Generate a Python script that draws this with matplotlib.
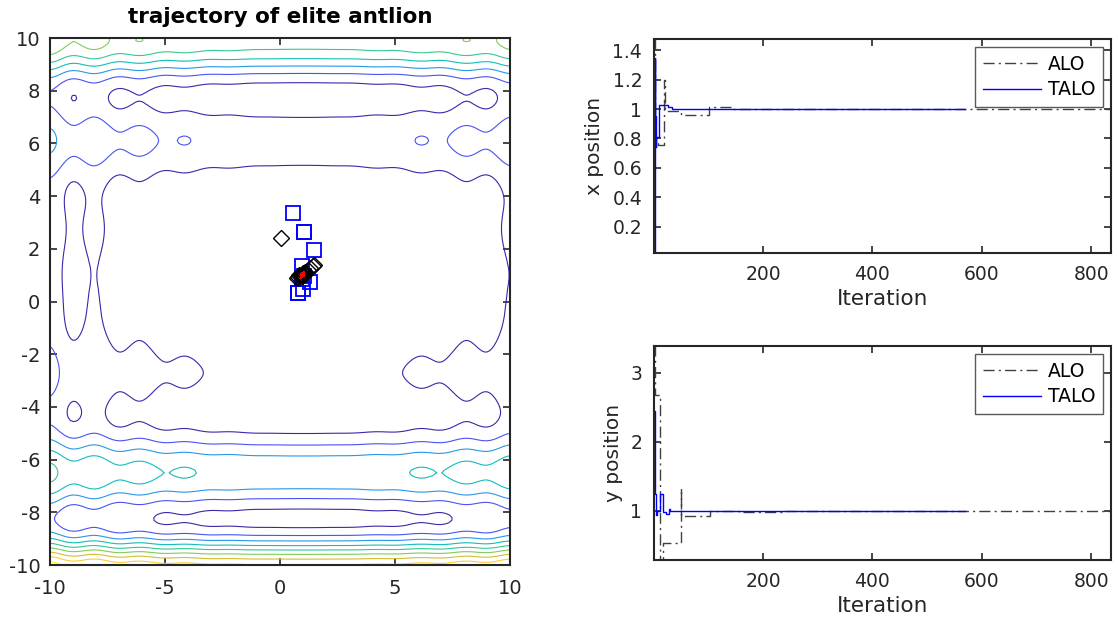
import numpy as np
import matplotlib
matplotlib.use('Agg')
import matplotlib.pyplot as plt
from matplotlib.colors import LinearSegmentedColormap, Normalize
from matplotlib.ticker import FormatStrFormatter

plt.rcParams['font.family'] = ['DejaVu Sans']
plt.rcParams['axes.unicode_minus'] = False

# elite antlion positions over the search space
alo_traj_x = [0.05, 1.5, 1.42, 1.32, 1.2, 1.1, 1.02, 0.95, 0.88, 0.8, 0.72, 1.0, 0.97, 1.1, 0.85]
alo_traj_y = [2.42, 1.4, 1.34, 1.28, 1.2, 1.13, 1.07, 1.02, 0.98, 0.92, 0.88, 1.0, 0.95, 1.05, 1.0]
talo_traj_x = [0.58, 1.04, 1.04, 1.49, 0.94, 1.3, 1.01, 0.8, 0.8, 1.05, 0.95]
talo_traj_y = [3.35, 2.65, 2.65, 1.95, 1.35, 0.73, 0.46, 0.31, 0.31, 0.95, 0.85]
best_x = [0.9, 0.97, 1.05]
best_y = [0.95, 1.0, 1.06]

# convergence curves, as (iteration where the value starts, value)
alo_x_iter = [1, 2, 9, 20, 21, 22, 50, 101, 141, 836]
alo_x_val = [1.475, 0.80, 0.755, 1.20, 1.0, 0.985, 0.962, 1.012, 1.0, 1.0]
talo_x_iter = [1, 2, 3, 4, 5, 10, 26, 33, 570]
talo_x_val = [0.023, 1.345, 0.95, 0.74, 0.81, 1.024, 1.012, 1.0, 1.0]

alo_y_iter = [1, 2, 11, 18, 50, 51, 104, 150, 157, 235, 836]
alo_y_val = [3.39, 2.68, 0.29, 0.535, 1.33, 0.934, 1.005, 1.0, 0.985, 1.0, 1.0]
talo_y_iter = [1, 2, 3, 4, 6, 11, 18, 22, 28, 30, 570]
talo_y_val = [2.45, 1.8, 1.25, 0.94, 1.0, 1.24, 0.98, 0.96, 1.03, 1.0, 1.0]

# parula-like colour map
parula = LinearSegmentedColormap.from_list('parula', [
    (0.2422, 0.1504, 0.6603), (0.2810, 0.3228, 0.9579), (0.1540, 0.5902, 0.9218),
    (0.0704, 0.7457, 0.7258), (0.2000, 0.7800, 0.6000), (0.5044, 0.7993, 0.3480),
    (0.8328, 0.7406, 0.1889), (0.9956, 0.7981, 0.2007), (0.9769, 0.9839, 0.0805)])


def levy(x, y):
    # Levy test function, first variable along the vertical axis
    w1 = 1 + (y - 1) / 4
    w2 = 1 + (x - 1) / 4
    return (np.sin(np.pi * w1) ** 2
            + (w1 - 1) ** 2 * (1 + 10 * np.sin(np.pi * w1 + 1) ** 2)
            + (w2 - 1) ** 2 * (1 + np.sin(2 * np.pi * w2) ** 2))


grid = np.linspace(-10, 10, 201)
X, Y = np.meshgrid(grid, grid)
Z = levy(X, Y)
levels = np.arange(10, Z.max(), 10)

fig = plt.figure(figsize=(11.18, 6.19), dpi=100)
ax1 = fig.add_axes([0.0447, 0.0872, 0.4114, 0.8514])
ax2 = fig.add_axes([0.585, 0.5913, 0.4088, 0.3457])
ax3 = fig.add_axes([0.585, 0.0953, 0.4088, 0.3457])

dark = '0.15'


def style(ax, size, xpad, ypad):
    ax.tick_params(direction='in', top=True, right=True, length=5, width=1.2,
                   labelsize=size, colors=dark)
    ax.tick_params(axis='x', pad=xpad)
    ax.tick_params(axis='y', pad=ypad)
    for s in ax.spines.values():
        s.set_linewidth(1.5)
        s.set_color(dark)


ax1.contour(X, Y, Z, levels=levels, cmap=parula,
            norm=Normalize(levels[0], levels[-1]), linewidths=0.8)
ax1.plot(talo_traj_x, talo_traj_y, 's', mfc='none', mec='b', ms=10, mew=1.3, ls='none')
ax1.plot(alo_traj_x, alo_traj_y, 'D', mfc='none', mec='k', ms=8.5, mew=1.0, ls='none')
ax1.plot(best_x, best_y, '|', color='r', ms=5, mew=1.5, ls='none')
ax1.set_xlim(-10, 10)
ax1.set_ylim(-10, 10)
ax1.set_xticks([-10, -5, 0, 5, 10])
ax1.set_yticks(range(-10, 11, 2))
ax1.set_title('trajectory of elite antlion', fontsize=15.5, fontweight='bold', pad=11)
style(ax1, 14, 10, 7)

alo_style = dict(color='0.25', lw=1.0, dashes=(8, 3, 1.5, 3), drawstyle='steps-post')

ax2.plot(alo_x_iter, alo_x_val, label='ALO', **alo_style)
ax2.plot(talo_x_iter, talo_x_val, color='b', lw=1.0, drawstyle='steps-post', label='TALO')
ax2.set_xlim(1, 836)
ax2.set_ylim(0.023, 1.475)
ax2.set_yticks([0.2, 0.4, 0.6, 0.8, 1.0, 1.2, 1.4])
ax2.yaxis.set_major_formatter(FormatStrFormatter('%g'))
ax2.set_ylabel('x position', fontsize=14.5, color=dark, labelpad=6)

ax3.plot(alo_y_iter, alo_y_val, label='ALO', **alo_style)
ax3.plot(talo_y_iter, talo_y_val, color='b', lw=1.0, drawstyle='steps-post', label='TALO')
ax3.set_xlim(1, 836)
ax3.set_ylim(0.29, 3.39)
ax3.set_yticks([1, 2, 3])
ax3.set_ylabel('y position', fontsize=14.5, color=dark, labelpad=5)

for ax in (ax2, ax3):
    ax.set_xticks([200, 400, 600, 800])
    ax.set_xlabel('Iteration', fontsize=15.5, color=dark, labelpad=4)
    style(ax, 13.5, 8.5, 8.5)
    leg = ax.legend(loc='upper right', fontsize=13.5, fancybox=False, framealpha=1,
                    edgecolor='0.35', handlelength=3.1, handletextpad=0.37,
                    borderaxespad=0.45, labelspacing=0.33)
    leg.get_frame().set_linewidth(1.0)

fig.savefig('out.png', dpi=100)
